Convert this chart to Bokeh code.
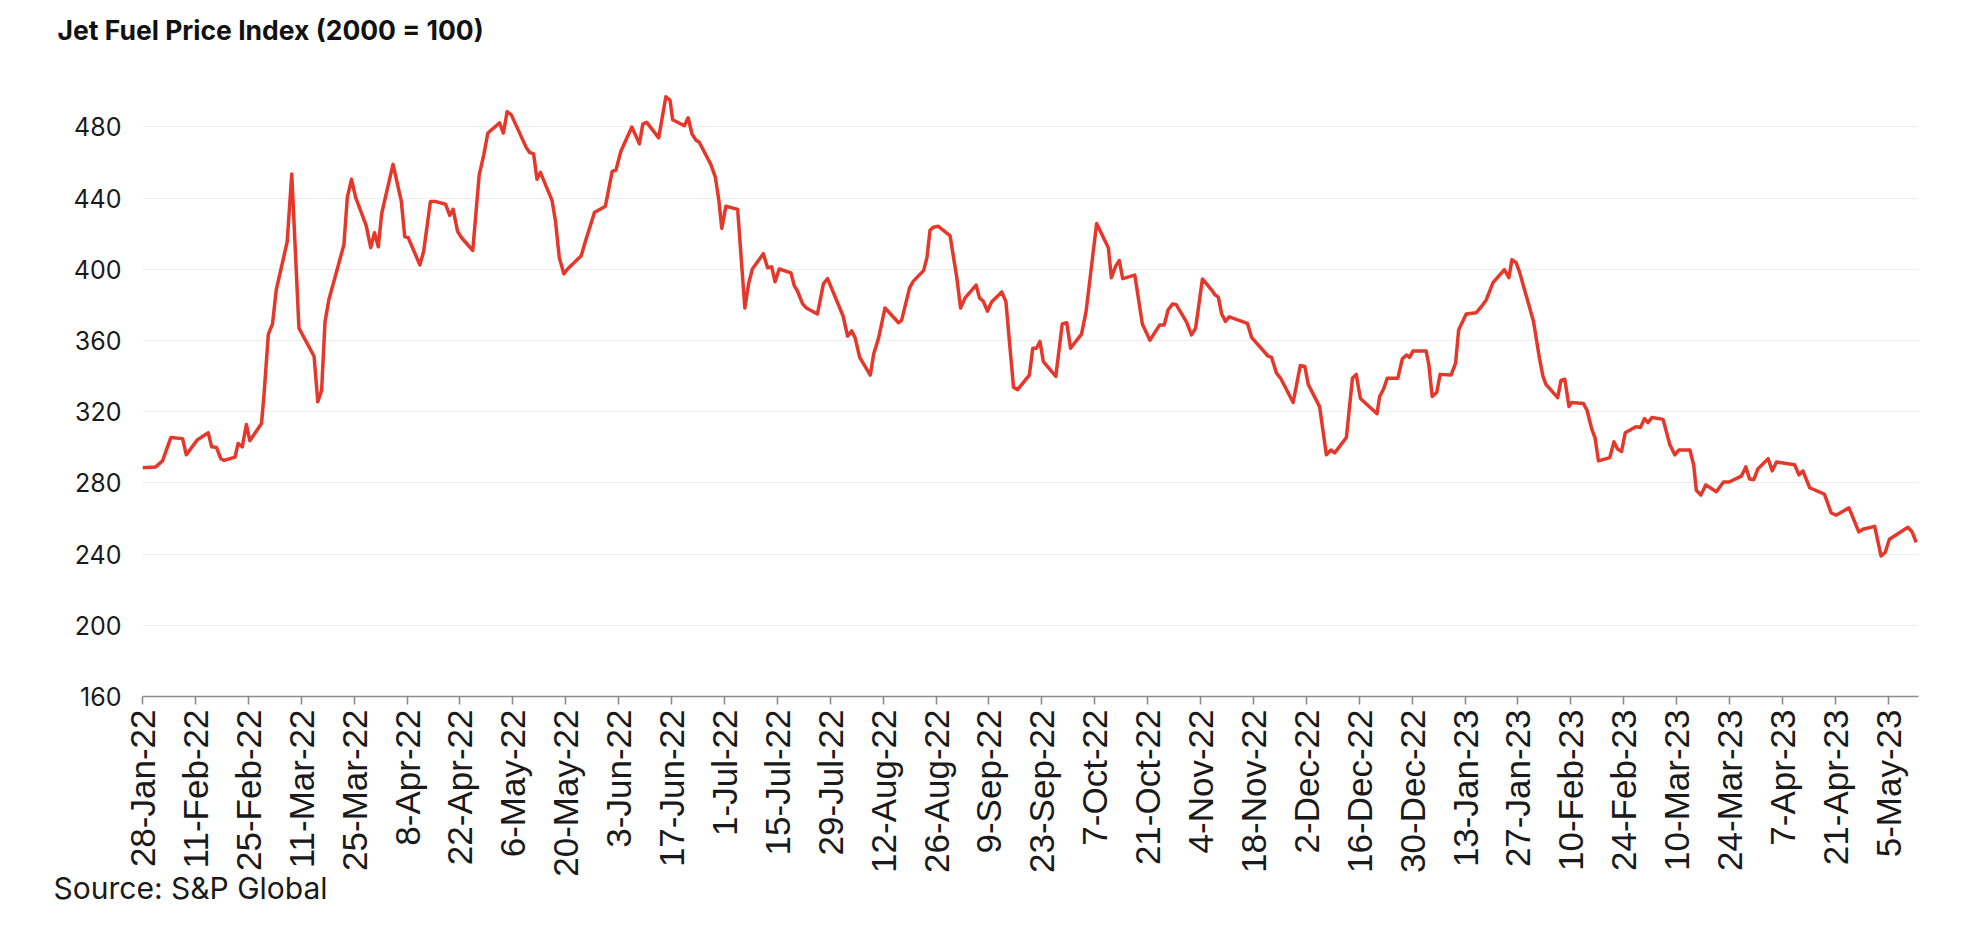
import math
import pandas as pd
from bokeh.plotting import figure
from bokeh.models import FixedTicker, Range1d, Title
from bokeh.embed import file_html
from bokeh.resources import INLINE

# ---------------- data ----------------
start_date = "2022-01-28"
# days since 28-Jan-22 of each vertex of the index line
days = [
    0.0, 3.5, 5.3, 7.5, 10.6, 11.6, 14.5, 17.4, 18.3, 19.6, 20.7, 21.6, 24.5, 25.3, 26.4, 27.5, 28.4,
    31.5, 32.2, 33.3, 34.4, 35.4, 38.3, 39.5, 41.4, 45.4, 46.4, 47.4, 48.3, 49.3, 53.3, 54.2, 55.3,
    56.4, 59.2, 60.4, 61.4, 62.4, 63.3, 66.3, 68.5, 69.4, 70.3, 73.4, 74.4, 76.2, 77.4, 80.2, 81.3,
    82.2, 83.4, 84.4, 87.4, 89.1, 90.3, 91.4, 94.5, 95.5, 96.5, 97.6, 101.5, 102.4, 103.5, 104.4,
    105.3, 108.4, 109.3, 110.3, 111.5, 112.5, 116.1, 117.2, 119.6, 122.5, 124.3, 125.3, 126.6, 129.5,
    131.5, 132.4, 133.4, 136.6, 138.5, 139.6, 140.3, 143.4, 144.4, 145.4, 146.5, 147.3, 150.4, 151.6,
    152.5, 153.3, 154.4, 157.5, 159.4, 160.4, 161.4, 164.3, 165.4, 166.5, 167.4, 168.5, 171.6, 172.5,
    173.3, 174.7, 175.7, 178.6, 180.2, 181.3, 185.4, 186.6, 187.7, 188.6, 189.8, 192.6, 193.5, 194.8,
    196.5, 200.1, 200.9, 203.0, 204.0, 206.7, 207.6, 208.4, 209.3, 210.6, 213.7, 215.5, 216.5, 217.7,
    220.6, 221.5, 222.5, 223.6, 224.7, 227.4, 228.5, 230.5, 231.6, 234.7, 235.6, 236.6, 237.5, 238.4,
    241.7, 243.4, 244.6, 245.6, 248.5, 249.7, 252.5, 255.6, 256.4, 257.6, 258.5, 259.4, 262.6, 264.6,
    266.6, 269.2, 270.4, 271.4, 272.6, 273.6, 276.3, 277.6, 278.7, 280.5, 282.9, 283.8, 284.7, 285.6,
    286.6, 287.6, 292.4, 293.5, 297.9, 298.8, 300.1, 301.2, 304.5, 306.4, 307.6, 308.5, 311.5, 313.3,
    314.5, 315.5, 318.6, 320.2, 321.2, 322.3, 326.7, 327.4, 328.5, 329.4, 332.2, 333.4, 334.5, 335.3,
    336.2, 339.7, 340.4, 341.3, 342.5, 343.4, 346.3, 347.5, 348.3, 350.3, 352.9, 354.3, 355.6, 357.4,
    360.4, 361.6, 362.4, 363.5, 364.4, 368.1, 369.7, 370.6, 371.4, 374.5, 375.4, 376.4, 377.5, 378.2,
    381.3, 382.3, 383.5, 384.4, 385.3, 388.3, 389.4, 390.3, 391.4, 392.4, 395.2, 396.4, 397.5, 398.4,
    399.5, 402.4, 404.2, 405.5, 406.6, 409.5, 410.5, 411.2, 412.4, 413.7, 416.5, 418.4, 419.9, 423.1,
    424.3, 425.3, 426.4, 427.5, 430.2, 431.3, 432.4, 437.2, 438.4, 439.4, 441.2, 445.1, 446.9, 448.2,
    451.6, 454.2, 455.3, 458.4, 460.1, 461.2, 462.3, 467.2, 468.3, 469.4,
]
index_values = [
    288.6, 289.0, 292.4, 305.5, 304.9, 295.8, 304.2, 308.2, 300.3, 299.9, 293.6, 292.7, 294.5, 302.2, 300.3, 312.8, 303.7,
    313.4, 330.8, 363.6, 369.3, 388.5, 415.6, 453.6, 367.0, 351.2, 325.6, 332.0, 370.5, 382.8, 413.8, 440.5, 450.6,
    440.5, 424.6, 412.2, 420.6, 412.7, 431.4, 459.0, 438.2, 418.3, 417.9, 402.5, 410.0, 438.2, 438.2, 436.6, 430.3,
    433.7, 421.2, 417.9, 410.6, 452.9, 464.2, 476.6, 482.3, 476.6, 488.6, 486.8, 468.7, 465.8, 464.9, 450.6,
    454.5, 438.6, 426.9, 406.6, 397.5, 400.2, 407.7, 415.6, 431.9, 435.5, 455.1, 455.8, 466.4, 480.0,
    470.5, 481.6, 482.7, 473.9, 497.0, 495.1, 484.1, 480.7, 485.2, 476.2, 472.5, 471.6, 459.0, 451.8,
    439.3, 423.0, 435.5, 433.7, 378.3, 391.9, 400.2, 408.8, 400.9, 401.4, 393.0, 400.2, 398.0, 390.7,
    388.0, 380.6, 378.3, 374.9, 391.9, 394.8, 373.8, 362.5, 365.4, 361.4, 350.5, 340.6, 352.4, 361.4,
    378.3, 370.0, 371.5, 389.6, 393.4, 399.3, 406.6, 421.9, 423.7, 424.2, 419.0, 395.3, 378.3, 384.0,
    391.2, 384.0, 382.1, 376.5, 381.7, 387.3, 381.7, 333.8, 332.4, 340.6, 355.7, 355.7, 359.5, 348.2,
    339.9, 369.3, 370.0, 355.7, 363.6, 376.1, 425.8, 412.2, 395.3, 402.1, 405.0, 394.8, 396.8, 369.3,
    360.2, 368.8, 368.8, 377.2, 380.6, 380.1, 370.4, 363.2, 367.0, 394.6, 388.5, 385.8, 384.4, 374.9,
    370.8, 373.3, 369.7, 361.8, 351.2, 350.5, 341.7, 338.8, 325.2, 346.0, 345.5, 335.4, 322.9, 295.8,
    298.5, 296.9, 305.5, 338.8, 341.0, 327.4, 318.9, 328.6, 333.1, 338.8, 338.8, 349.7, 351.9, 350.5,
    354.1, 354.1, 346.7, 328.6, 330.8, 341.0, 340.6, 347.3, 365.9, 374.9, 375.6, 379.0, 382.8, 392.5,
    399.8, 395.3, 405.4, 403.8, 398.6, 370.8, 350.0, 340.0, 335.4, 327.9, 337.6, 338.3, 322.9, 325.2,
    324.7, 320.7, 310.5, 305.3, 292.4, 294.2, 303.1, 299.2, 297.6, 308.2, 311.6, 311.2, 316.1, 313.9,
    316.8, 315.7, 301.5, 295.8, 298.5, 298.5, 290.1, 275.9, 273.2, 278.9, 275.0, 280.5, 280.5, 283.8,
    289.0, 282.2, 281.8, 287.9, 293.6, 286.8, 291.8, 290.2, 284.5, 286.8, 277.3, 273.7, 263.1, 261.9,
    266.0, 252.5, 254.0, 255.6, 238.9, 241.1, 248.4, 255.1, 252.5, 246.6,
]
tick_labels = [
    "28-Jan-22", "11-Feb-22", "25-Feb-22", "11-Mar-22", "25-Mar-22", "8-Apr-22", "22-Apr-22",
    "6-May-22", "20-May-22", "3-Jun-22", "17-Jun-22", "1-Jul-22", "15-Jul-22", "29-Jul-22",
    "12-Aug-22", "26-Aug-22", "9-Sep-22", "23-Sep-22", "7-Oct-22", "21-Oct-22", "4-Nov-22",
    "18-Nov-22", "2-Dec-22", "16-Dec-22", "30-Dec-22", "13-Jan-23", "27-Jan-23", "10-Feb-23",
    "24-Feb-23", "10-Mar-23", "24-Mar-23", "7-Apr-23", "21-Apr-23", "5-May-23",
]
y_ticks = [160, 200, 240, 280, 320, 360, 400, 440, 480]
title_text = "Jet Fuel Price Index (2000 = 100)"
source_text = "Source: S&P Global"

# tick positions derived from the tick labels (days since start)
t0 = pd.Timestamp(start_date)
tick_days = [int((pd.to_datetime(s, format="%d-%b-%y") - t0).days) for s in tick_labels]

# ---------------- figure ----------------
p = figure(
    width=1960, height=920,
    x_range=Range1d(0, 470), y_range=Range1d(160, 505),
    output_backend="svg", toolbar_location=None, title=None,
    min_border_left=142, min_border_right=42, min_border_top=82, min_border_bottom=224,
)
p.outline_line_color = None
p.background_fill_color = "white"
p.border_fill_color = "white"

p.line(days, index_values, line_color="#e6372b", line_width=3.5, line_join="round")

# x axis
xa = p.xaxis[0]
xa.ticker = FixedTicker(ticks=tick_days)
xa.major_label_overrides = {d: s for d, s in zip(tick_days, tick_labels)}
xa.major_label_orientation = math.pi / 2
xa.major_label_text_font = "Liberation Sans"
xa.major_label_text_font_size = "35px"
xa.major_label_text_color = "#1a1a1a"
xa.major_label_standoff = 5
xa.axis_line_color = "#8c8c8c"
xa.axis_line_width = 1.6
xa.major_tick_line_color = "#8c8c8c"
xa.major_tick_line_width = 1.6
xa.major_tick_out = 8
xa.major_tick_in = 0
xa.minor_tick_line_color = None

# y axis
ya = p.yaxis[0]
ya.ticker = FixedTicker(ticks=y_ticks)
ya.axis_line_color = None
ya.major_tick_line_color = None
ya.major_tick_out = 0
ya.major_tick_in = 0
ya.minor_tick_line_color = None
ya.major_label_text_font = "Inter"
ya.major_label_text_font_size = "25px"
ya.major_label_text_color = "#1a1a1a"
ya.major_label_standoff = 21

p.xgrid.visible = False
p.ygrid.grid_line_color = "#ededed"
p.ygrid.grid_line_width = 1

# a blank spacer next to the frame, then the title above it
p.add_layout(Title(text=" ", standoff=8, text_font="Inter", text_font_size="10px",
                   text_color="white"), "above")
p.add_layout(Title(text=title_text, align="left", offset=-85, standoff=25, vertical_align="top",
                   text_font="Inter", text_font_style="bold", text_font_size="26.5px",
                   text_color="#111111"), "above")

p.add_layout(Title(text=source_text, align="left", offset=-89, standoff=-23,
                   text_font="Inter", text_font_style="normal", text_font_size="30px",
                   text_color="#1a1a1a"), "below")

open("out.html", "w").write(file_html(p, INLINE))
